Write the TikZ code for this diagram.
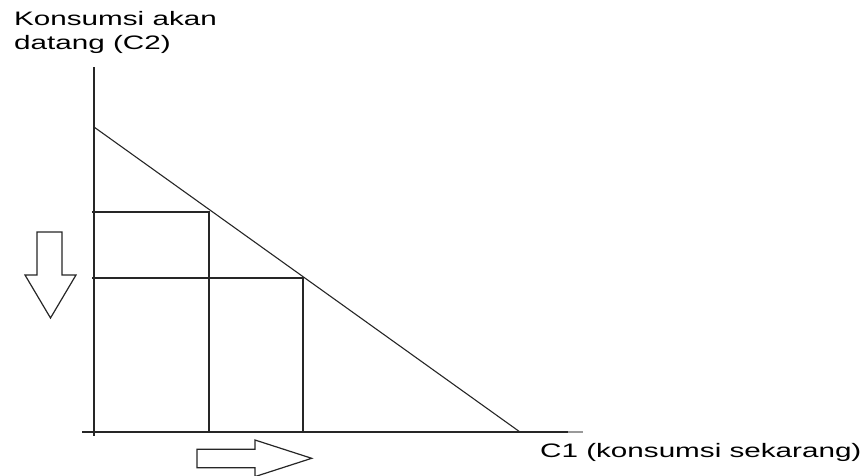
\documentclass[tikz,border=0pt]{standalone}
\usepackage{fontspec}
\setmainfont{Liberation Sans}
\begin{document}
\begin{tikzpicture}[x=1pt,y=-1pt,
  axisline/.style={line width=1.6pt,black!85},
  guideline/.style={line width=1.6pt,black!85},
  budgetline/.style={line width=1.1pt,black!85},
  bigarrow/.style={line width=1.2pt,black!85,fill=white,line join=miter},
  lbl/.style={inner sep=0pt,anchor=base west,font=\fontsize{19.5}{22}\selectfont}]
\useasboundingbox (0,0) rectangle (860,475);
\clip (0,0) rectangle (860,475);
% axes
\coordinate (ytop) at (94,67);
\coordinate (ybot) at (94,436);
\coordinate (xleft) at (82,432);
\coordinate (xdark) at (568,432);
\coordinate (xright) at (583,432);
\draw[axisline] (ytop) -- (ybot);
\draw[axisline] (xleft) -- (xdark);
\draw[line width=1.2pt,black!40] (xdark) -- (xright);
% budget line
\coordinate (bA) at (94,127);
\coordinate (bB) at (520,432);
\draw[budgetline] (bA) -- (bB);
% guide lines
\coordinate (p1) at (209,212);
\coordinate (p2) at (303,278);
\coordinate (p1y) at (92,212);
\coordinate (p2y) at (92,278);
\coordinate (p1x) at (209,432);
\coordinate (p2x) at (303,432);
\draw[guideline] (p1y) -- (p1) -- (p1x);
\draw[guideline] (p2y) -- (p2) -- (p2x);
% arrows
\draw[bigarrow] (37,232) -- (62,232) -- (62,275) -- (76,275) -- (50.5,318) -- (25,275) -- (37,275) -- cycle;
\draw[bigarrow] (197,449.3) -- (255,449.3) -- (255,440) -- (311.7,458.3) -- (255,476.6) -- (255,467.7) -- (197,467.7) -- cycle;
% labels
\node[lbl] (ylab1) at (14,25.7) {\scalebox{1.52}[1]{Konsumsi akan}};
\node[lbl] (ylab2) at (14,49.3) {\scalebox{1.52}[1]{datang (C2)}};
\node[lbl] (xlab) at (540,457.3) {\scalebox{1.52}[1]{C1 (konsumsi sekarang)}};
\end{tikzpicture}
\end{document}
